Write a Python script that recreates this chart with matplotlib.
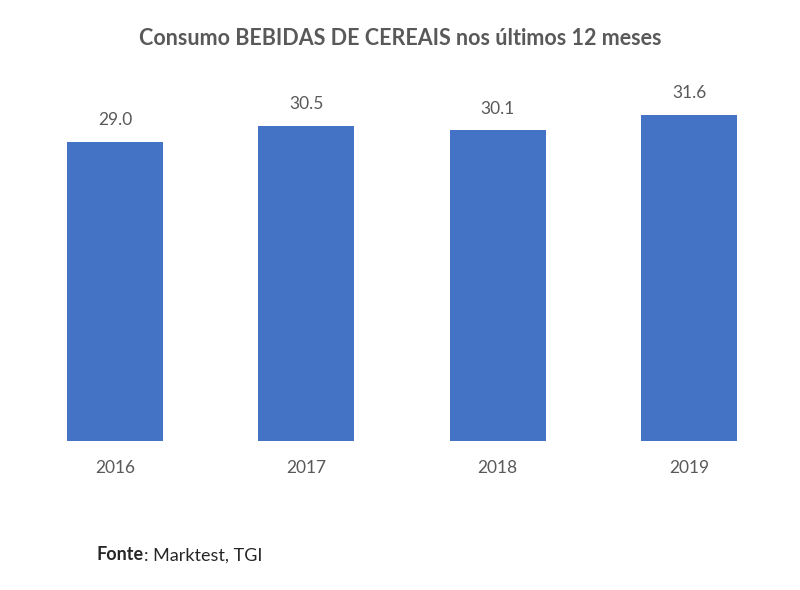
import matplotlib
matplotlib.use("Agg")
import matplotlib.pyplot as plt

years = ["2016", "2017", "2018", "2019"]
values = [29.0, 30.5, 30.1, 31.6]

BAR = "#4472C4"
GREY = "#595959"

plt.rcParams["font.family"] = ["Lato", "DejaVu Sans"]

fig = plt.figure(figsize=(8, 5.9), dpi=100)
ax = fig.add_axes([0.024, 0.2525, 0.957, 0.612])
x = range(len(years))
bars = ax.bar(x, values, width=0.5, color=BAR)
for b, v in zip(bars, values):
    ax.annotate(f"{v:.1f}", (b.get_x() + b.get_width() / 2, v), xytext=(0, 10),
                textcoords="offset points", ha="center", va="bottom",
                fontsize=12.5, color=GREY)

ax.set_xlim(-0.5, 3.5)
ax.set_ylim(0, 35)
ax.set_xticks(list(x))
ax.set_xticklabels(years, fontsize=12.5, color=GREY)
ax.tick_params(axis="x", length=0, pad=14)
ax.set_yticks([])
for s in ax.spines.values():
    s.set_visible(False)

fig.text(0.5, 0.935, "Consumo BEBIDAS DE CEREAIS nos últimos 12 meses",
         ha="center", va="center", fontsize=15.5, fontweight="bold", color=GREY)
t1 = fig.text(0.121, 0.045, "Fonte", ha="left", va="bottom", fontsize=13,
              fontweight="bold", color="#262626")
fig.add_artist(plt.Annotation(": Marktest, TGI", xy=(1, 0), xycoords=t1,
                              ha="left", va="bottom", fontsize=13, color="#262626"))

fig.savefig("out.png", dpi=100)
